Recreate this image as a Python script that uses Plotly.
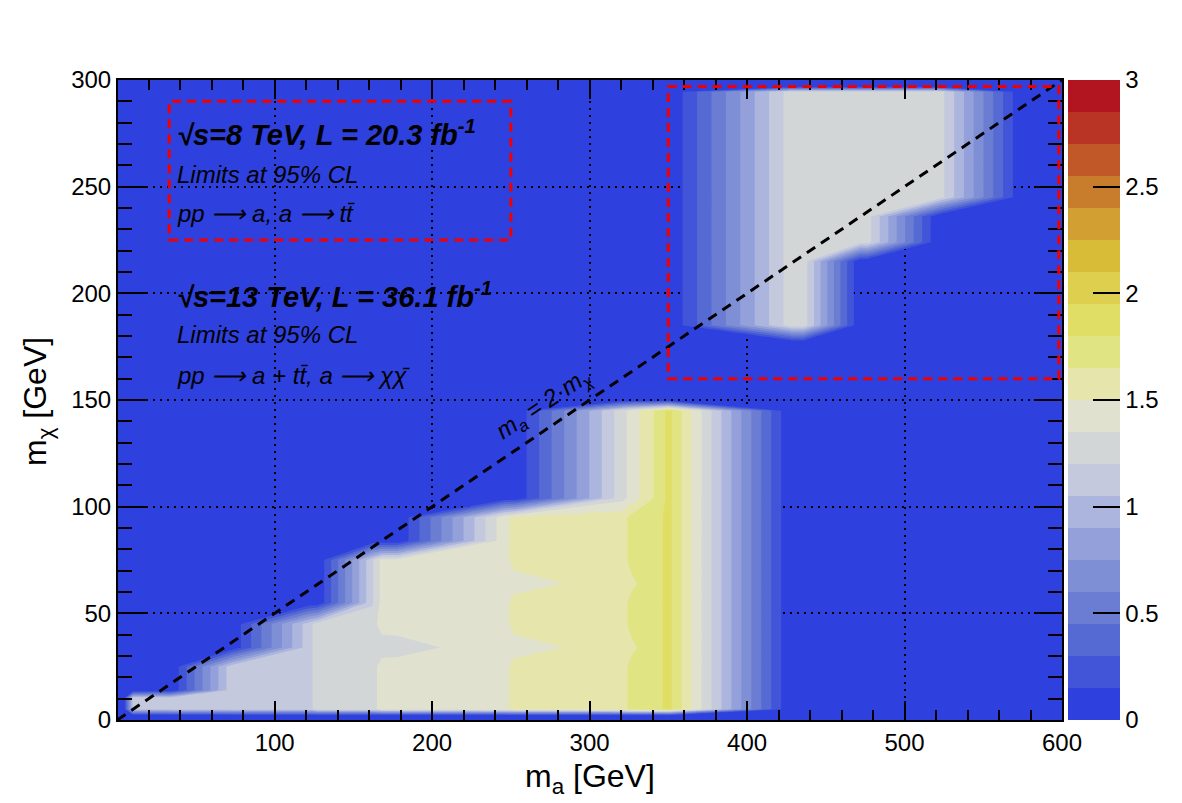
import plotly.graph_objects as go

# ---------------- data ----------------
# grid nodes of the interpolated limit map
m_a_nodes = [0, 4, 10, 34, 72, 122, 127, 162, 168, 178, 246, 252, 321, 327,
             345, 350, 428, 436, 472, 476, 522, 575, 600]
m_chi_nodes = [0, 2, 5, 10.5, 14, 25, 34, 45, 55, 64, 75, 84, 95, 104, 145,
               150, 177, 185, 215, 224, 236, 245, 294.5, 297, 300]

# one row per m_chi node, one value per m_a node
limit_z = [
    [0, 0, 0, 0, 0, 0, 0, 0, 0, 0, 0, 0, 0, 0, 0, 0, 0, 0, 0, 0, 0, 0, 0],            # 0
    [0, 0, 0, 0, 0, 0, 0, 0, 0, 0, 0, 0, 0, 0, 0, 0, 0, 0, 0, 0, 0, 0, 0],            # 2
    [0, 0, 1.10, 1.11, 1.13, 1.15, 1.27, 1.30, 1.40, 1.41, 1.46, 1.54, 1.60, 1.70, 1.78, 1.85, 0, 0, 0, 0, 0, 0, 0],  # 5
    [0, 0, 1.10, 1.11, 1.13, 1.15, 1.27, 1.30, 1.40, 1.41, 1.46, 1.54, 1.60, 1.70, 1.78, 1.85, 0, 0, 0, 0, 0, 0, 0],  # 10.5
    [0, 0, 0, 0, 1.13, 1.15, 1.27, 1.30, 1.40, 1.41, 1.46, 1.54, 1.60, 1.70, 1.78, 1.85, 0, 0, 0, 0, 0, 0, 0],        # 14
    [0, 0, 0, 0, 1.13, 1.15, 1.27, 1.30, 1.40, 1.41, 1.46, 1.54, 1.60, 1.70, 1.78, 1.85, 0, 0, 0, 0, 0, 0, 0],        # 25
    [0, 0, 0, 0, 0, 1.15, 1.27, 1.29, 1.29, 1.29, 1.44, 1.45, 1.56, 1.62, 1.78, 1.85, 0, 0, 0, 0, 0, 0, 0],           # 34
    [0, 0, 0, 0, 0, 1.15, 1.27, 1.30, 1.40, 1.41, 1.46, 1.54, 1.60, 1.70, 1.78, 1.85, 0, 0, 0, 0, 0, 0, 0],           # 45
    [0, 0, 0, 0, 0, 0, 0, 1.18, 1.40, 1.41, 1.46, 1.54, 1.60, 1.70, 1.78, 1.85, 0, 0, 0, 0, 0, 0, 0],                 # 55
    [0, 0, 0, 0, 0, 0, 0, 1.18, 1.40, 1.41, 1.45, 1.45, 1.56, 1.62, 1.78, 1.85, 0, 0, 0, 0, 0, 0, 0],                 # 64
    [0, 0, 0, 0, 0, 0, 0, 1.18, 1.40, 1.41, 1.46, 1.54, 1.60, 1.70, 1.78, 1.85, 0, 0, 0, 0, 0, 0, 0],                 # 75
    [0, 0, 0, 0, 0, 0, 0, 0, 0, 0, 1.46, 1.54, 1.60, 1.70, 1.78, 1.85, 0, 0, 0, 0, 0, 0, 0],                          # 84
    [0, 0, 0, 0, 0, 0, 0, 0, 0, 0, 1.46, 1.54, 1.60, 1.70, 1.78, 1.85, 0, 0, 0, 0, 0, 0, 0],                          # 95
    [0, 0, 0, 0, 0, 0, 0, 0, 0, 0, 0, 0, 1.30, 1.42, 1.72, 1.85, 0, 0, 0, 0, 0, 0, 0],                                # 104
    [0, 0, 0, 0, 0, 0, 0, 0, 0, 0, 0, 0, 1.30, 1.42, 1.72, 1.85, 0, 0, 0, 0, 0, 0, 0],                                # 145
    [0, 0, 0, 0, 0, 0, 0, 0, 0, 0, 0, 0, 0, 0, 0, 0, 0, 0, 0, 0, 0, 0, 0],                                            # 150
    [0, 0, 0, 0, 0, 0, 0, 0, 0, 0, 0, 0, 0, 0, 0, 0, 0, 0, 0, 0, 0, 0, 0],                                            # 177
    [0, 0, 0, 0, 0, 0, 0, 0, 0, 0, 0, 0, 0, 0, 0, 0, 1.28, 1.28, 0, 0, 0, 0, 0],                                      # 185
    [0, 0, 0, 0, 0, 0, 0, 0, 0, 0, 0, 0, 0, 0, 0, 0, 1.28, 1.28, 0, 0, 0, 0, 0],                                      # 215
    [0, 0, 0, 0, 0, 0, 0, 0, 0, 0, 0, 0, 0, 0, 0, 0, 1.28, 1.28, 1.28, 1.28, 0, 0, 0],                                # 224
    [0, 0, 0, 0, 0, 0, 0, 0, 0, 0, 0, 0, 0, 0, 0, 0, 1.28, 1.28, 1.28, 1.28, 0, 0, 0],                                # 236
    [0, 0, 0, 0, 0, 0, 0, 0, 0, 0, 0, 0, 0, 0, 0, 0, 1.28, 1.28, 1.28, 1.28, 1.28, 0, 0],                             # 245
    [0, 0, 0, 0, 0, 0, 0, 0, 0, 0, 0, 0, 0, 0, 0, 0, 1.28, 1.28, 1.28, 1.28, 1.28, 0, 0],                             # 294.5
    [0, 0, 0, 0, 0, 0, 0, 0, 0, 0, 0, 0, 0, 0, 0, 0, 0, 0, 0, 0, 0, 0, 0],                                            # 297
    [0, 0, 0, 0, 0, 0, 0, 0, 0, 0, 0, 0, 0, 0, 0, 0, 0, 0, 0, 0, 0, 0, 0],                                            # 300
]

# palette: 20 bands from 0 to 3
band_colors = [
    "rgb(46,64,222)", "rgb(66,85,216)", "rgb(86,106,212)", "rgb(106,125,211)",
    "rgb(127,143,213)", "rgb(148,160,217)", "rgb(172,181,221)", "rgb(196,201,222)",
    "rgb(211,214,215)", "rgb(224,226,207)", "rgb(229,229,172)", "rgb(225,228,130)",
    "rgb(224,222,100)", "rgb(222,208,78)", "rgb(216,188,56)", "rgb(210,160,50)",
    "rgb(200,125,45)", "rgb(192,88,40)", "rgb(185,52,37)", "rgb(178,20,32)",
]
level_start, level_end, level_step = 0.15, 3.0, 0.15
cbar_ticks = [0, 0.5, 1, 1.5, 2, 2.5, 3]
cbar_text = ["0", "0.5", "1", "1.5", "2", "2.5", "3"]

# diagonal m_a = 2 m_chi
diag_m_a = [0, 600]
diag_m_chi = [0, 300]
# dashed boxes (m_a0, m_a1, m_chi0, m_chi1)
box_8tev = [33, 250, 225, 290]
box_13tev = [350, 598, 160, 297]

FONT = "Liberation Sans"
BG = "rgb(46,64,222)"

# contour fill colours: band i (level 0.15*i) -> position 0.05*i ; lowest band transparent
contour_cs = [[0.0, "rgba(46,64,222,0)"]]
for i in range(1, 20):
    contour_cs.append([0.05 * i, band_colors[i]])
contour_cs.append([1.0, band_colors[19]])

bar_cs = []
for i, c in enumerate(band_colors):
    bar_cs.append([i / 20, c])
    bar_cs.append([(i + 1) / 20, c])

fig = go.Figure()
fig.add_trace(go.Contour(
    x=m_a_nodes, y=m_chi_nodes, z=limit_z,
    autocontour=False,
    contours=dict(start=level_start, end=level_end, size=level_step,
                  coloring="fill", showlines=False),
    line=dict(width=0, smoothing=0),
    colorscale=contour_cs, showscale=False, hoverinfo="skip",
))
fig.add_trace(go.Scatter(
    x=[None], y=[None], mode="markers", showlegend=False, hoverinfo="skip",
    marker=dict(color=[0], cmin=0, cmax=3, colorscale=bar_cs, showscale=True,
                colorbar=dict(thickness=52, thicknessmode="pixels", len=1, lenmode="fraction",
                              x=1.0064, xanchor="left", xpad=0, y=0.5, yanchor="middle", ypad=0,
                              outlinewidth=0, tickmode="array", tickvals=cbar_ticks, ticktext=cbar_text,
                              ticks="inside", ticklen=27, tickwidth=1.5, tickcolor="black",
                              tickfont=dict(family=FONT, size=24, color="black"))),
))

# diagonal line
fig.add_shape(type="line", x0=diag_m_a[0], y0=diag_m_chi[0], x1=diag_m_a[1], y1=diag_m_chi[1],
              line=dict(color="black", width=3, dash="10px,7px"))
for b in (box_8tev, box_13tev):
    fig.add_shape(type="rect", x0=b[0], x1=b[1], y0=b[2], y1=b[3],
                  line=dict(color="rgb(240,0,0)", width=3, dash="9px,6px"))

def txt(x, y, s, size, bold=False):
    fig.add_annotation(x=x, y=y, xref="x", yref="y", text=s, showarrow=False,
                       xanchor="left", yanchor="middle",
                       font=dict(family=FONT, size=size, color="black", style="italic",
                                 weight="bold" if bold else "normal"))

ARROW = " ⟶ "
txt(37, 275, "√s=8 TeV, L = 20.3 fb<sup>-1</sup>", 29, True)
txt(37, 255.5, "Limits at 95% CL", 24)
txt(37, 237.5, "pp" + ARROW + "a, a" + ARROW + "tt̄", 24)
txt(37, 199, "√s=13 TeV, L = 36.1 fb<sup>-1</sup>", 29, True)
txt(37, 180.5, "Limits at 95% CL", 24)
txt(37, 161.5, "pp" + ARROW + "a + tt̄, a" + ARROW + "χχ̄", 24)

fig.add_annotation(x=271, y=148, xref="x", yref="y", text="m<sub>a</sub> = 2·m<sub>χ</sub>",
                   showarrow=False, textangle=-34.1, xanchor="center", yanchor="middle",
                   font=dict(family=FONT, size=24, color="black", style="italic"))

# axis titles
fig.add_annotation(x=(590 - 118) / 944, y=(720 - 778) / 640, xref="paper", yref="paper",
                   text="m<sub>a</sub> [GeV]", showarrow=False, xanchor="center", yanchor="middle",
                   font=dict(family=FONT, size=32, color="black"))
fig.add_annotation(x=(37 - 118) / 944, y=(720 - 402) / 640, xref="paper", yref="paper",
                   text="m<sub>χ</sub> [GeV]", showarrow=False, textangle=-90,
                   xanchor="center", yanchor="middle",
                   font=dict(family=FONT, size=32, color="black"))

axis_common = dict(ticks="inside", tickwidth=1.5, tickcolor="black", showline=True,
                   linecolor="black", linewidth=2, mirror="allticks", showgrid=True,
                   gridcolor="black", griddash="2px,5px", gridwidth=1.5, zeroline=False,
                   tickfont=dict(family=FONT, size=24, color="black"))
fig.update_layout(
    width=1182, height=803, margin=dict(l=118, r=120, t=80, b=83, autoexpand=False),
    paper_bgcolor="white", plot_bgcolor=BG, showlegend=False,
    xaxis=dict(range=[0.5, 600], tick0=0, dtick=100, ticklen=19,
               minor=dict(tick0=0, dtick=20, ticks="inside", ticklen=10, tickwidth=1.5,
                          tickcolor="black", showgrid=False),
               **axis_common),
    yaxis=dict(range=[0, 300], tick0=0, dtick=50, ticklen=28,
               minor=dict(tick0=0, dtick=10, ticks="inside", ticklen=14, tickwidth=1.5,
                          tickcolor="black", showgrid=False),
               **axis_common),
)
fig.write_html("out.html")
